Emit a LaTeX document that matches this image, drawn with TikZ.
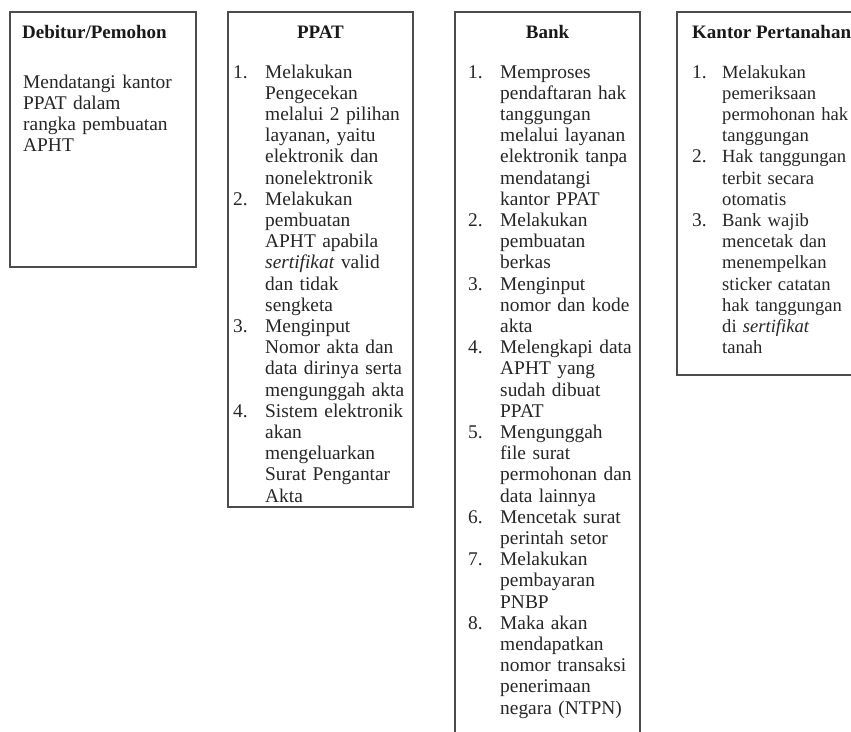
\documentclass[tikz,border=0pt]{standalone}
\usepackage{fontspec}
\setmainfont{Liberation Serif}
\newcommand{\bodyfont}{\fontsize{19.4}{21.2}\selectfont}
\newcommand{\narrowfont}{\fontsize{18.6}{21.2}\selectfont}
\newcommand{\titlefont}{\fontsize{19}{21.2}\selectfont\bfseries}
\tikzset{
  box/.style={draw=black!70, line width=1.6pt},
  ttl/.style={font=\titlefont, text=black!90, inner sep=0pt, anchor=base},
  num/.style={font=\bodyfont, text=black!85, inner sep=0pt, anchor=base west},
  txt/.style={font=\bodyfont, text=black!85, inner sep=0pt, anchor=base west, text width=220pt, align=left},
  ktxt/.style={txt, font=\narrowfont},
}
\begin{document}
\begin{tikzpicture}[x=1pt,y=-1pt]
\clip (0,0) rectangle (851,731);
\fill[white] (0,0) rectangle (851,731);
% boxes
\draw[box] (10,12) rectangle (196,267);
\draw[box] (228,12) rectangle (413,507);
\draw[box] (455,12) rectangle (640,760);
\draw[box] (677,12) rectangle (870,375);

% Debitur/Pemohon
\node[ttl, anchor=base west] (t1) at (22,38) {Debitur/Pemohon};
\node[txt] (d1) at (23,88) {Mendatangi kantor\\PPAT dalam\\rangka pembuatan\\APHT};

% PPAT
\node[ttl] (t2) at (320.5,38) {PPAT};
\node[num] (p1n) at (233,78) {1.};
\node[txt] (p1) at (265,78) {Melakukan\\Pengecekan\\melalui 2 pilihan\\layanan, yaitu\\elektronik dan\\nonelektronik};
\node[num] (p2n) at (233,205.2) {2.};
\node[txt] (p2) at (265,205.2) {Melakukan\\pembuatan\\APHT apabila\\\textit{sertifikat} valid\\dan tidak\\sengketa};
\node[num] (p3n) at (233,332.4) {3.};
\node[txt] (p3) at (265,332.4) {Menginput\\Nomor akta dan\\data dirinya serta\\mengunggah akta};
\node[num] (p4n) at (233,417.2) {4.};
\node[txt] (p4) at (265,417.2) {Sistem elektronik\\akan\\mengeluarkan\\Surat Pengantar\\Akta};

% Bank
\node[ttl] (t3) at (547.5,38) {Bank};
\node[num] (b1n) at (468,78) {1.};
\node[txt] (b1) at (500,78) {Memproses\\pendaftaran hak\\tanggungan\\melalui layanan\\elektronik tanpa\\mendatangi\\kantor PPAT};
\node[num] (b2n) at (468,226.4) {2.};
\node[txt] (b2) at (500,226.4) {Melakukan\\pembuatan\\berkas};
\node[num] (b3n) at (468,290) {3.};
\node[txt] (b3) at (500,290) {Menginput\\nomor dan kode\\akta};
\node[num] (b4n) at (468,353.6) {4.};
\node[txt] (b4) at (500,353.6) {Melengkapi data\\APHT yang\\sudah dibuat\\PPAT};
\node[num] (b5n) at (468,438.4) {5.};
\node[txt] (b5) at (500,438.4) {Mengunggah\\file surat\\permohonan dan\\data lainnya};
\node[num] (b6n) at (468,523.2) {6.};
\node[txt] (b6) at (500,523.2) {Mencetak surat\\perintah setor};
\node[num] (b7n) at (468,565.6) {7.};
\node[txt] (b7) at (500,565.6) {Melakukan\\pembayaran\\PNBP};
\node[num] (b8n) at (468,629.2) {8.};
\node[txt] (b8) at (500,629.2) {Maka akan\\mendapatkan\\nomor transaksi\\penerimaan\\negara (NTPN)};

% Kantor Pertanahan
\node[ttl, anchor=base west] (t4) at (692,38) {Kantor Pertanahan};
\node[num] (k1n) at (692,78) {1.};
\node[ktxt] (k1) at (722,78) {Melakukan\\pemeriksaan\\permohonan hak\\tanggungan};
\node[num] (k2n) at (692,162.8) {2.};
\node[ktxt] (k2) at (722,162.8) {Hak tanggungan\\terbit secara\\otomatis};
\node[num] (k3n) at (692,226.4) {3.};
\node[ktxt] (k3) at (722,226.4) {Bank wajib\\mencetak dan\\menempelkan\\sticker catatan\\hak tanggungan\\di \textit{sertifikat}\\tanah};
\end{tikzpicture}
\end{document}
